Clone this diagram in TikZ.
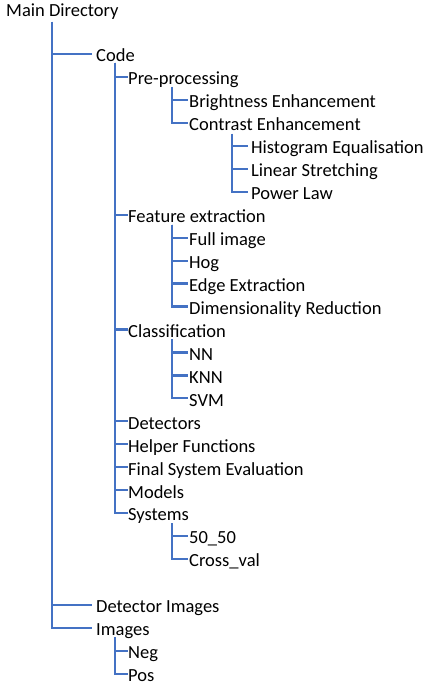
\documentclass[tikz,border=0pt]{standalone}
\usepackage{fontspec}
\setmainfont{Carlito}
\usetikzlibrary{calc}
\definecolor{linkblue}{HTML}{4472C4}
\begin{document}
\begin{tikzpicture}[x=1pt,y=-1pt,
  item/.style={anchor=west, inner xsep=0pt, inner ysep=0pt, text height=15.7pt, text depth=0pt, font=\fontsize{18.5}{22}\selectfont},
  link/.style={draw=linkblue, line width=2.2pt},
  gapA/.style={link, shorten >=4pt},
  gapB/.style={link},
  gapC/.style={link, shorten >=1pt},
  gapD/.style={link, shorten >=3pt}]
\useasboundingbox (0,0) rectangle (429,685);
% nodes
\node[item] (main) at (6,8.5) {Main Directory};
\node[item] (code) at (96,53.9) {Code};
\node[item] (pre) at (128,76.9) {Pre-processing};
\node[item] (bright) at (189,99.8) {Brightness Enhancement};
\node[item] (contrast) at (189,122.8) {Contrast Enhancement};
\node[item] (hist) at (251,145.8) {Histogram Equalisation};
\node[item] (linear) at (251,168.8) {Linear Stretching};
\node[item] (power) at (251,191.7) {Power Law};
\node[item] (feat) at (128,214.6) {Feature extraction};
\node[item] (full) at (189,237.6) {Full image};
\node[item] (hog) at (189,260.6) {Hog};
\node[item] (edge) at (189,283.5) {Edge Extraction};
\node[item] (dim) at (189,306.5) {Dimensionality Reduction};
\node[item] (class) at (128,329.4) {Classification};
\node[item] (nn) at (189,352.4) {NN};
\node[item] (knn) at (189,375.4) {KNN};
\node[item] (svm) at (189,398.3) {SVM};
\node[item] (det) at (128,421.3) {Detectors};
\node[item] (helper) at (128,444.2) {Helper Functions};
\node[item] (final) at (128,467.2) {Final System Evaluation};
\node[item] (models) at (128,490.2) {Models};
\node[item] (systems) at (128,513.1) {Systems};
\node[item] (fifty) at (189,536.1) {50\_50};
\node[item] (cross) at (189,559) {Cross\_val};
\node[item] (detimg) at (96,605) {Detector Images};
\node[item] (images) at (96,627.9) {Images};
\node[item] (neg) at (128,650.9) {Neg};
\node[item] (pos) at (128,673.8) {Pos};
% trunk tops
\coordinate (tmain) at ($(main.west)+(46,13.5)$);
\coordinate (tcode) at ($(code.west)+(19,9)$);
\coordinate (tpre) at ($(pre.west)+(44,10)$);
\coordinate (tcon) at ($(contrast.west)+(43,11)$);
\coordinate (tfeat) at ($(feat.west)+(44,10)$);
\coordinate (tclass) at ($(class.west)+(44,10)$);
\coordinate (tsys) at ($(systems.west)+(44,10)$);
\coordinate (timg) at ($(images.west)+(19,9)$);
% connectors
\foreach \c in {code,detimg,images} \draw[gapA] (tmain) |- (\c.west);
\foreach \c in {pre,feat,class,det,helper,final,models,systems} \draw[gapB] (tcode) |- (\c.west);
\foreach \c in {bright,contrast} \draw[gapC] (tpre) |- (\c.west);
\foreach \c in {hist,linear,power} \draw[gapD] (tcon) |- (\c.west);
\foreach \c in {full,hog,edge,dim} \draw[gapC] (tfeat) |- (\c.west);
\foreach \c in {nn,knn,svm} \draw[gapC] (tclass) |- (\c.west);
\foreach \c in {fifty,cross} \draw[gapC] (tsys) |- (\c.west);
\foreach \c in {neg,pos} \draw[gapB] (timg) |- (\c.west);
\end{tikzpicture}
\end{document}
